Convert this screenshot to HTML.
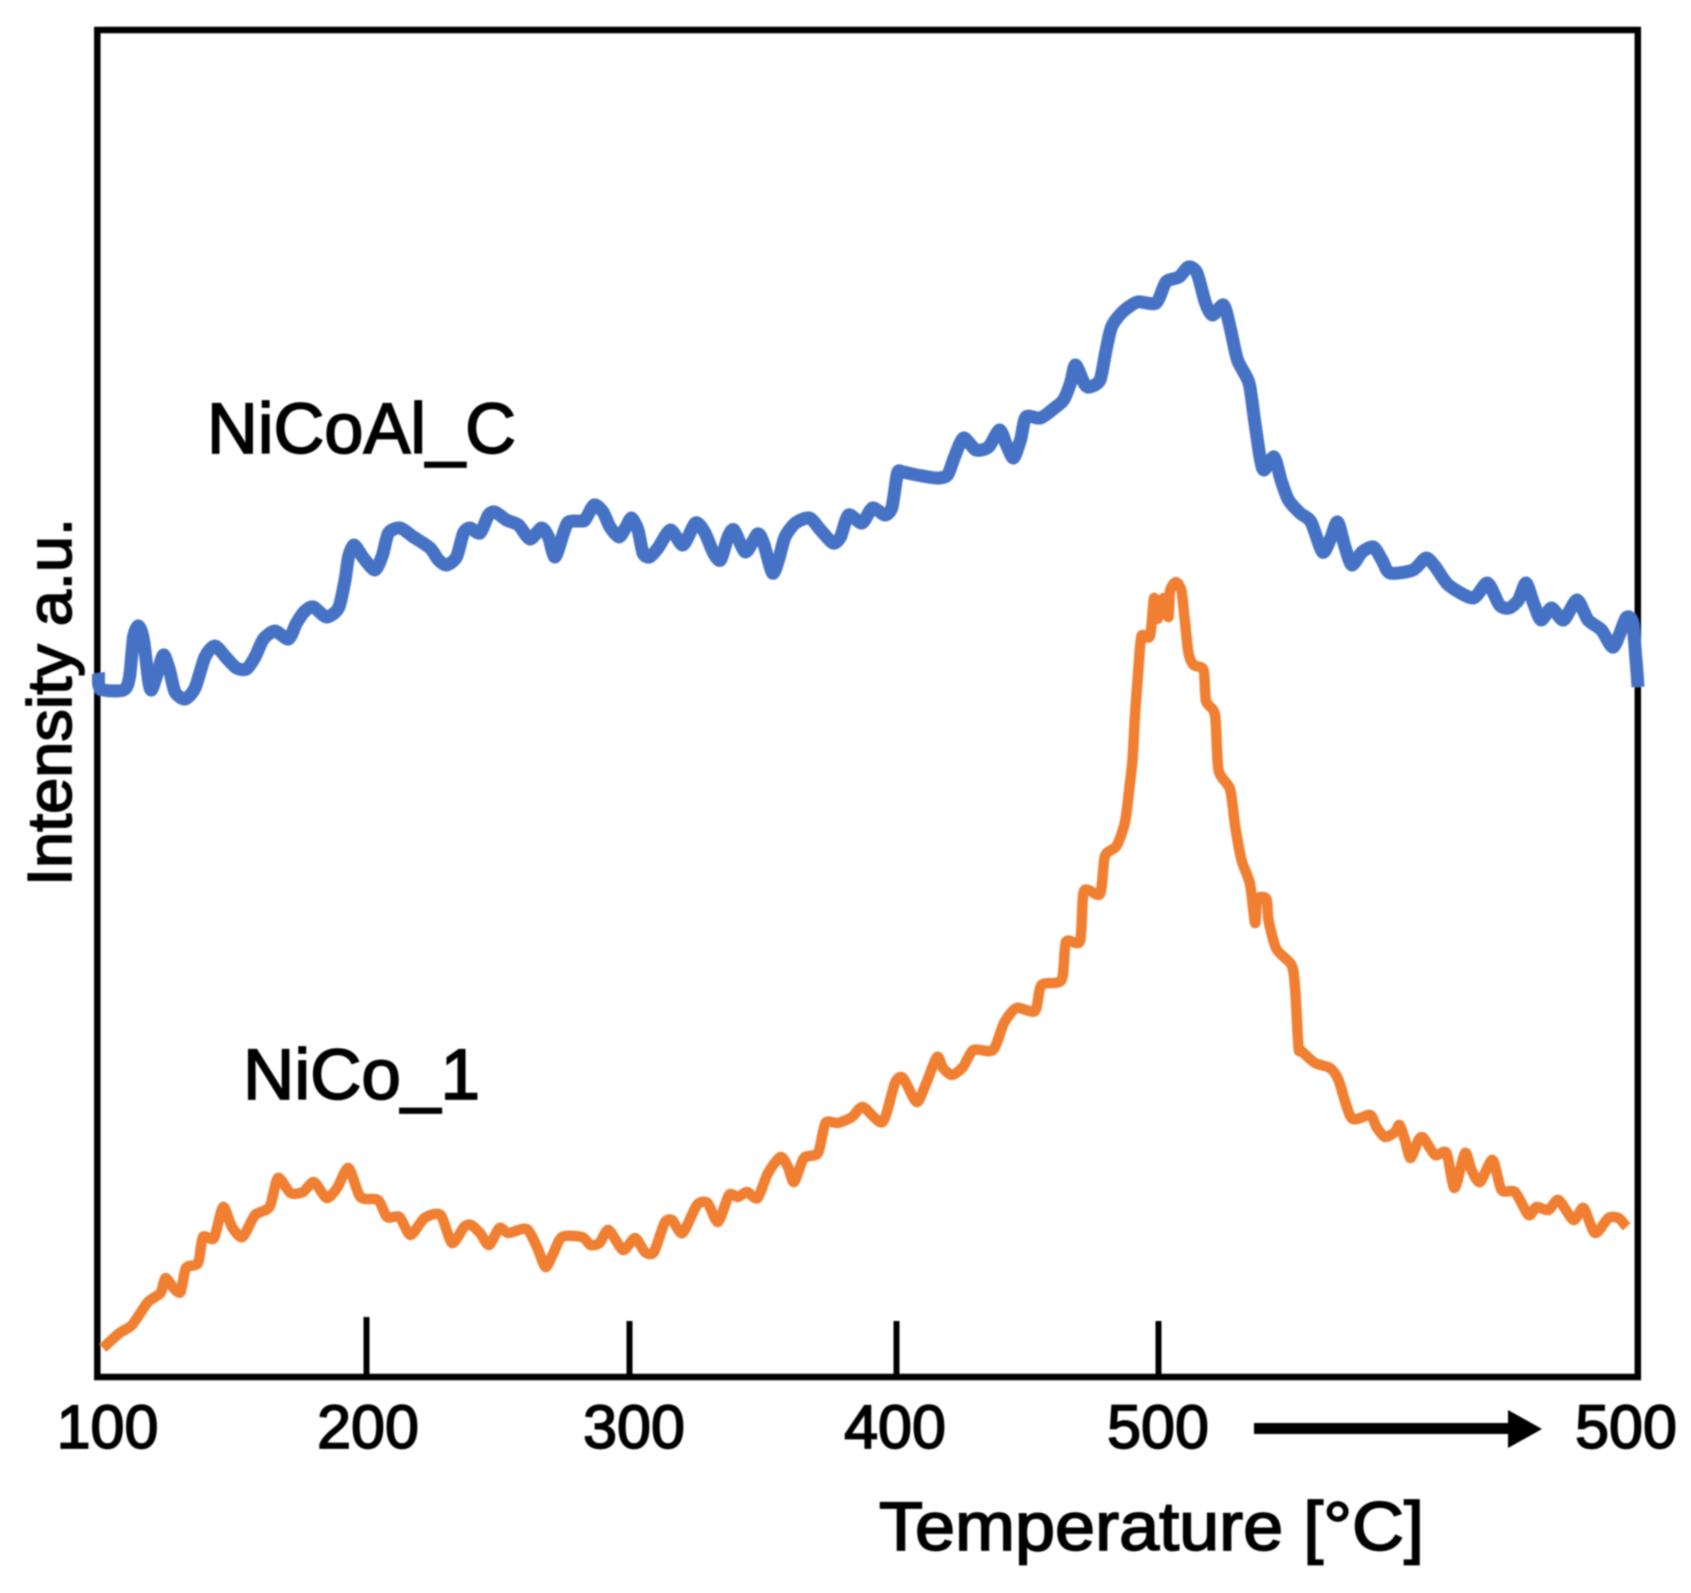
<!DOCTYPE html>
<html lang="en">
<head>
<meta charset="utf-8">
<title>Intensity vs Temperature</title>
<style>
html,body{margin:0;padding:0;background:#fff;}
svg{display:block;}
text{font-family:"Liberation Sans",sans-serif;fill:#000;stroke:#000;stroke-width:1.7px;}
</style>
</head>
<body>
<svg id="chart" xmlns="http://www.w3.org/2000/svg" width="1691" height="1593" viewBox="0 0 1691 1593">
  <defs>
    <filter id="soften" x="0" y="0" width="100%" height="100%" filterUnits="userSpaceOnUse" primitiveUnits="userSpaceOnUse">
      <feGaussianBlur stdDeviation="0.7"/>
    </filter>
  </defs>
  <rect x="0" y="0" width="1691" height="1593" fill="#fff"/>
  <g filter="url(#soften)">
  <g id="ticks"></g>
  <rect x="97.3" y="30" width="1540.5" height="1347" fill="none" stroke="#000" stroke-width="6.5"/>
  <g id="series"></g>
  <g id="tick-labels"></g>
  <rect x="1254" y="1423" width="256" height="11" fill="#000"/>
  <polygon points="1508,1410 1542,1429 1508,1448" fill="#000"/>
  <text x="879" y="1550" font-size="69" textLength="545" lengthAdjust="spacingAndGlyphs">Temperature [°C]</text>
  <text transform="translate(71,886) rotate(-90)" font-size="62" textLength="368" lengthAdjust="spacingAndGlyphs">Intensity a.u.</text>
  <text x="207" y="453" font-size="71" textLength="309" lengthAdjust="spacingAndGlyphs">NiCoAl_C</text>
  <text x="243" y="1099" font-size="71" textLength="237" lengthAdjust="spacingAndGlyphs">NiCo_1</text>
  </g>
</svg>
<script>
const tickLabels = ["100", "200", "300", "400", "500", "500"];
const tickLabelTimes = [21, 542, 1074, 1596, 2122, 3058];
const tickTimes = [539, 1065, 1599, 2123];

const nicoalC = [
[3,704],[7,688],[53,687],[65,700],[73,740],[83,751],[93,737],[103,697],[109,687],[121,704],[133,722],[145,707],[156,685],[176,678],[196,689],[216,720],[236,731],[259,719],[279,709],[299,708],[316,720],[333,738],[356,746],[383,738],[399,754],[416,766],[433,770],[459,760],[483,769],[496,797],[503,820],[514,832],[533,819],[556,807],[571,822],[583,844],[606,849],[633,840],[666,829],[683,817],[699,812],[719,820],[733,844],[746,849],[766,844],[783,862],[796,865],[819,857],[843,852],[866,838],[889,849],[903,840],[916,820],[933,844],[943,855],[966,856],
[976,857],[994,872],[1012,865],[1026,850],[1044,840],[1058,850],[1069,859],[1082,847],[1092,824],[1105,820],[1122,829],[1147,847],[1172,832],[1197,854],[1215,845],[1233,824],[1247,817],[1262,840],[1274,847],[1297,825],[1321,843],[1333,834],[1351,804],[1363,817],[1376,840],[1397,854],[1425,859],[1447,847],[1472,834],[1487,840],[1503,862],[1530,854],[1551,869],[1576,862],[1590,870],[1601,904],[1612,905],[1640,902],[1680,899],[1701,902],[1715,920],[1733,939],[1758,927],[1783,930],[1805,947],[1819,932],[1833,919],[1847,937],[1858,960],[1887,959],[1915,969],[1933,977],[1947,994],[1957,1012],[1975,993],[1986,990],
[2006,997],[2017,1024],[2029,1050],[2051,1065],[2081,1075],[2118,1074],[2138,1095],[2164,1100],[2183,1110],[2200,1104],[2217,1074],[2231,1062],[2253,1072],[2266,1050],[2281,1017],[2304,994],[2315,957],[2326,920],[2334,907],[2354,920],[2368,897],[2383,877],[2406,864],[2428,855],[2451,825],[2466,837],[2481,855],[2496,830],[2510,812],[2530,825],[2553,830],[2570,817],[2586,804],[2632,807],[2658,819],[2677,810],[2703,792],[2752,779],[2781,794],[2805,772],[2824,769],[2843,777],[2858,794],[2873,774],[2888,757],[2909,769],[2933,757],[2960,777],[2982,757],[3009,747],[3033,730],[3058,759],[3071,754],[3078,717],[3082,690]
];

const nicoOne = [
[12,29],[45,44],[70,52],[102,75],[127,84],[137,99],[153,89],[167,85],[178,109],[202,114],[212,140],[234,139],[252,170],[270,150],[291,140],[316,162],[345,170],[362,199],[387,184],[412,185],[434,195],[459,179],[480,189],[503,209],[527,180],[562,177],[580,160],[605,160],[627,142],[655,159],[687,162],[710,134],[734,150],[748,152],[766,144],[784,132],[805,149],[823,144],[859,148],[880,130],[897,110],[912,123],[930,140],[970,140],[987,132],[1005,134],[1023,147],[1052,127],[1076,139],[1096,125],[1114,125],
[1135,154],[1150,157],[1171,144],[1200,172],[1221,174],[1242,155],[1264,182],[1282,180],[1300,185],[1321,179],[1342,204],[1367,220],[1382,210],[1394,195],[1414,219],[1442,224],[1457,254],[1482,254],[1510,260],[1532,270],[1571,255],[1596,294],[1612,299],[1639,275],[1657,292],[1680,320],[1692,309],[1710,302],[1732,310],[1753,327],[1792,327],[1814,354],[1839,369],[1876,366],[1889,392],[1929,397],[1938,435],[1966,436],[1974,486],[2006,483],[2016,521],[2039,531],[2056,555],[2065,590],[2071,617],[2076,662],[2083,709],[2089,741],[2106,741],[2114,779],[2121,758],[2133,779],[2143,760],[2146,786],[2158,795],[2169,786],[2176,755],[2183,724],[2193,712],[2213,707],[2218,676],[2236,662],[2243,607],[2266,588],[2276,552],[2289,517],[2306,493],[2316,454],[2321,478],[2339,478],[2343,457],[2359,428],[2389,412],[2396,390],[2403,330],[2409,326],[2436,314],[2466,309],[2483,297],[2509,259],[2546,262],[2559,250],[2576,240],[2596,245],[2605,252],[2616,237],[2627,219],[2643,237],[2653,239],[2676,222],[2699,224],[2715,189],[2736,224],[2749,207],[2766,195],[2791,217],[2809,187],[2836,185],[2863,162],[2879,170],[2903,167],[2923,177],[2953,157],[2973,169],[2996,144],[3023,159],[3043,159],[3059,150]
];

const xDomain = [0, 3086];
const xRange = [97, 1640];
const yDomain = [0, 1347];
const yRange = [1377, 30];
const NS = "http://www.w3.org/2000/svg";

function xScale(t) {
  return xRange[0] + (t - xDomain[0]) / (xDomain[1] - xDomain[0]) * (xRange[1] - xRange[0]);
}
function yScale(v) {
  return yRange[0] + (v - yDomain[0]) / (yDomain[1] - yDomain[0]) * (yRange[1] - yRange[0]);
}
function smoothPath(rows) {
  const pts = rows.map(function (r) {
    return [xScale(r[0]), yScale(r[1])];
  });
  let d = "M" + pts[0][0].toFixed(1) + " " + pts[0][1].toFixed(1);
  for (let i = 0; i < pts.length - 1; i++) {
    const a = pts[Math.max(i - 1, 0)];
    const b = pts[i];
    const c = pts[i + 1];
    const e = pts[Math.min(i + 2, pts.length - 1)];
    const c1x = b[0] + (c[0] - a[0]) / 8;
    const c1y = b[1] + (c[1] - a[1]) / 8;
    const c2x = c[0] - (e[0] - b[0]) / 8;
    const c2y = c[1] - (e[1] - b[1]) / 8;
    d += " C" + c1x.toFixed(1) + " " + c1y.toFixed(1) + " " + c2x.toFixed(1) + " " + c2y.toFixed(1) + " " + c[0].toFixed(1) + " " + c[1].toFixed(1);
  }
  return d;
}

const tickGroup = document.getElementById("ticks");
tickTimes.forEach(function (t, i) {
  const el = document.createElementNS(NS, "line");
  
  
  el.setAttribute("x1", xScale(t));
  el.setAttribute("x2", xScale(t));
  el.setAttribute("y1", i === 0 ? 1317 : 1321);
  el.setAttribute("y2", 1377);
  el.setAttribute("stroke", "#000");
  el.setAttribute("stroke-width", "6");
  tickGroup.appendChild(el);
});

const labelGroup = document.getElementById("tick-labels");
tickLabels.forEach(function (label, i) {
  const el = document.createElementNS(NS, "text");
  
  
  el.setAttribute("x", xScale(tickLabelTimes[i]));
  el.setAttribute("y", 1448);
  el.setAttribute("font-size", "61");
  el.setAttribute("text-anchor", "middle");
  el.textContent = label;
  labelGroup.appendChild(el);
});

const seriesGroup = document.getElementById("series");

const orangeLine = document.createElementNS(NS, "path");


orangeLine.setAttribute("d", smoothPath(nicoOne));
orangeLine.setAttribute("fill", "none");
orangeLine.setAttribute("stroke", "#F07F30");
orangeLine.setAttribute("stroke-width", "10.5");
orangeLine.setAttribute("stroke-linejoin", "round");
seriesGroup.appendChild(orangeLine);

const blueLine = document.createElementNS(NS, "path");


blueLine.setAttribute("d", smoothPath(nicoalC));
blueLine.setAttribute("fill", "none");
blueLine.setAttribute("stroke", "#4472C4");
blueLine.setAttribute("stroke-width", "13");
blueLine.setAttribute("stroke-linejoin", "round");
seriesGroup.appendChild(blueLine);
</script>
</body>
</html>
